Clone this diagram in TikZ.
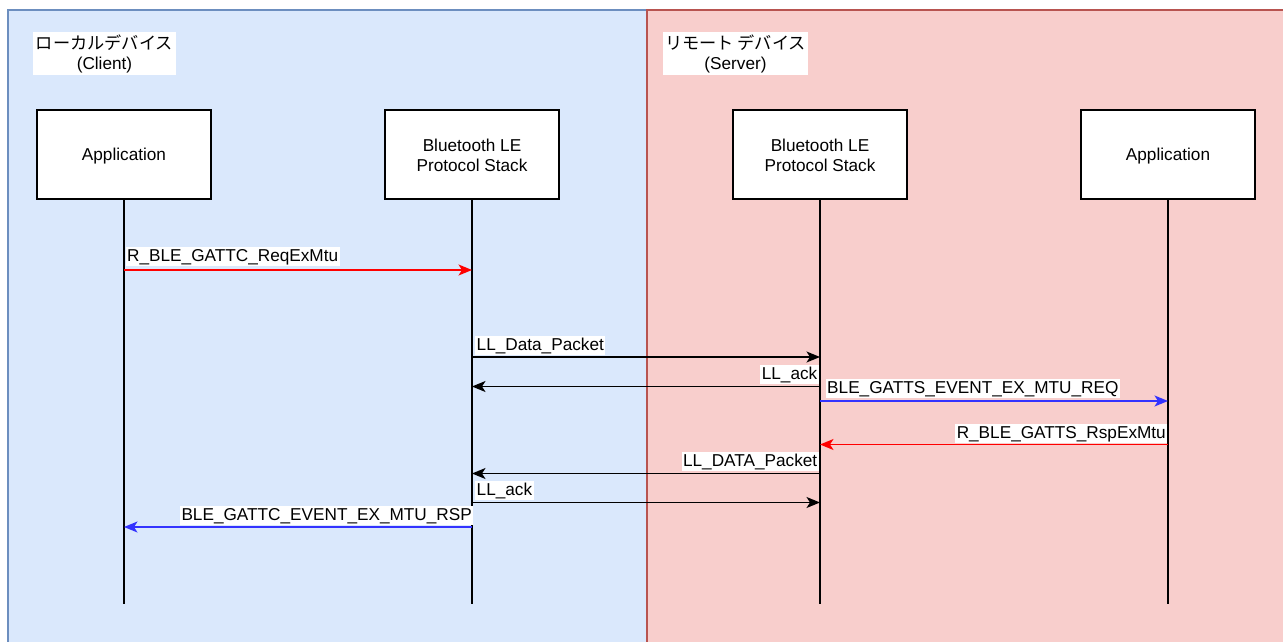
\documentclass[tikz,border=0pt]{standalone}
\usepackage{fontspec}
\setmainfont{Liberation Sans}
\newfontfamily\jpfont{Noto Sans CJK JP}
\usetikzlibrary{arrows.meta}
\definecolor{cfill}{HTML}{DAE8FC}
\definecolor{cstroke}{HTML}{6C8EBF}
\definecolor{sfill}{HTML}{F8CECC}
\definecolor{sstroke}{HTML}{B85450}
\definecolor{msgblue}{HTML}{3333FF}
\definecolor{msgred}{HTML}{FF0000}
\begin{document}
\begin{tikzpicture}[x=1pt,y=-1pt,line width=1.45pt,
  every node/.style={font=\fontsize{17.2}{20}\selectfont},
  actor/.style={draw=black,fill=white,line width=1.45pt,minimum width=174pt,minimum height=89pt,align=center,inner sep=0pt,text depth=0pt},
  lifeline/.style={draw=black,line width=1.45pt},
  msg/.style={-{Stealth[length=13.5pt,width=11pt,inset=3.5pt]},line width=1.45pt},
  lbl/.style={fill=white,inner sep=1.5pt},
  grouplbl/.style={fill=white,align=center,inner sep=2.5pt}
]
\useasboundingbox (0,0) rectangle (1283,642);
\clip (0,0) rectangle (1283,642);
% groups
\path[fill=cfill,draw=cstroke] (8,10) rectangle (647,660);
\path[fill=sfill,draw=sstroke] (647,10) rectangle (1300,660);
\node[grouplbl] (gclient) at (104.5,53.5) {{\jpfont ローカルデバイス}\\(Client)};
\node[grouplbl] (gserver) at (735.5,53.5) {{\jpfont リモート デバイス}\\(Server)};
% actors
\node[actor] (app1) at (124,154.5) {Application};
\node[actor] (ble1) at (472,154.5) {\raisebox{-1.5pt}{Bluetooth LE}\\\raisebox{-1.5pt}{Protocol Stack}};
\node[actor] (ble2) at (820,154.5) {\raisebox{-1.5pt}{Bluetooth LE}\\\raisebox{-1.5pt}{Protocol Stack}};
\node[actor] (app2) at (1168,154.5) {Application};
% lifeline ends
\coordinate (e1) at (124,604);
\coordinate (e2) at (472,604);
\coordinate (e3) at (820,604);
\coordinate (e4) at (1168,604);
\draw[lifeline] (app1.south) -- (e1);
\draw[lifeline] (ble1.south) -- (e2);
\draw[lifeline] (ble2.south) -- (e3);
\draw[lifeline] (app2.south) -- (e4);
% message points
\coordinate (m1a) at (124,270);   \coordinate (m1b) at (472,270);
\coordinate (m2a) at (472,357);   \coordinate (m2b) at (820,357);
\coordinate (m3a) at (820,386.5); \coordinate (m3b) at (472,386.5);
\coordinate (m4a) at (820,401);   \coordinate (m4b) at (1168,401);
\coordinate (m5a) at (1168,444.5);\coordinate (m5b) at (820,444.5);
\coordinate (m6a) at (820,473.5); \coordinate (m6b) at (472,473.5);
\coordinate (m7a) at (472,502.5); \coordinate (m7b) at (820,502.5);
\coordinate (m8a) at (472,527);   \coordinate (m8b) at (124,527);
% messages
\draw[msg,draw=msgred,color=msgred] (m1a) -- (m1b);
\draw[msg,draw=black] (m2a) -- (m2b);
\draw[msg,draw=black] (m3a) -- (m3b);
\draw[msg,draw=msgblue,color=msgblue] (m4a) -- (m4b);
\draw[msg,draw=msgred,color=msgred] (m5a) -- (m5b);
\draw[msg,draw=black] (m6a) -- (m6b);
\draw[msg,draw=black] (m7a) -- (m7b);
\draw[msg,draw=msgblue,color=msgblue] (m8a) -- (m8b);
% labels
\node[lbl,anchor=base west] (l1) at (125,261) {R\_BLE\_GATTC\_ReqExMtu};
\node[lbl,anchor=base west] (l2) at (474.5,350) {LL\_Data\_Packet};
\node[lbl,anchor=base east] (l3) at (819.5,379) {LL\_ack};
\node[lbl,anchor=base west] (l4) at (825,393) {BLE\_GATTS\_EVENT\_EX\_MTU\_REQ};
\node[lbl,anchor=base east] (l5) at (1168,438) {R\_BLE\_GATTS\_RspExMtu};
\node[lbl,anchor=base east] (l6) at (819.5,466) {LL\_DATA\_Packet};
\node[lbl,anchor=base west] (l7) at (474.5,495) {LL\_ack};
\node[lbl,anchor=base east] (l8) at (474,520) {BLE\_GATTC\_EVENT\_EX\_MTU\_RSP};
\end{tikzpicture}
\end{document}
